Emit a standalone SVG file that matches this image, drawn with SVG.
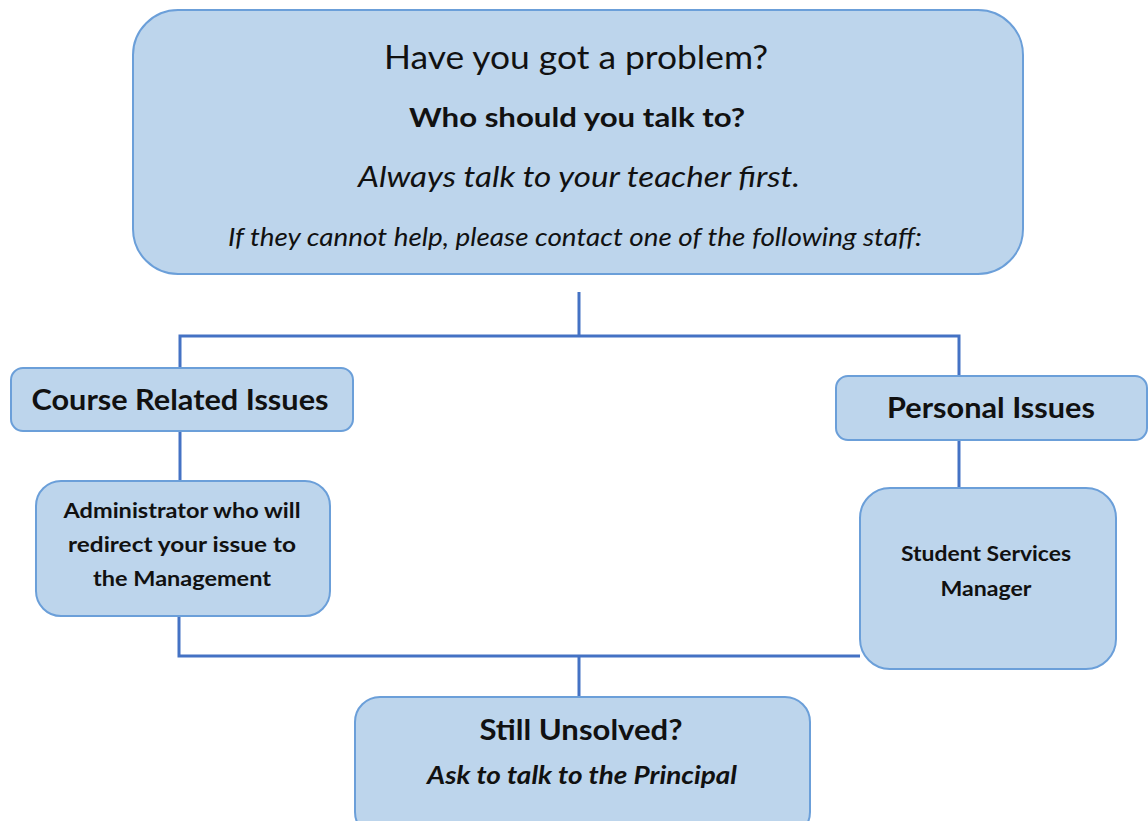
<svg xmlns="http://www.w3.org/2000/svg" width="1148" height="821" viewBox="0 0 1148 821">
<style>
.box{fill:#bdd5ec;stroke:#6b9fd9;stroke-width:2}
.con{fill:none;stroke:#4472c4;stroke-width:3}
text{font-family:Lato,"Open Sans","Liberation Sans",sans-serif;fill:#111;text-anchor:middle}
.b{font-weight:bold}
.i{font-style:italic}
</style>
<rect width="1148" height="821" fill="#fff"/>
<g id="connectors">
<path class="con" d="M579 292V336M180 368V336H959V376"/>
<path class="con" d="M180 431V481"/>
<path class="con" d="M959 440V488"/>
<path class="con" d="M179 616V656H860M579 656V697"/>
</g>
<g id="top">
<rect class="box" x="133" y="10" width="890" height="264" rx="45"/>
<text x="576" y="69" font-size="32" textLength="384" lengthAdjust="spacingAndGlyphs">Have you got a problem?</text>
<text x="577" y="127" font-size="27" class="b" textLength="336" lengthAdjust="spacingAndGlyphs">Who should you talk to?</text>
<text x="579" y="187" font-size="29" class="i" textLength="442" lengthAdjust="spacingAndGlyphs">Always talk to your teacher first.</text>
<text x="575" y="246" font-size="25" class="i" textLength="694" lengthAdjust="spacingAndGlyphs">If they cannot help, please contact one of the following staff:</text>
</g>
<g id="course">
<rect class="box" x="11" y="368" width="342" height="63" rx="12"/>
<text x="180" y="410" font-size="28" class="b" textLength="297" lengthAdjust="spacingAndGlyphs">Course Related Issues</text>
</g>
<g id="admin">
<rect class="box" x="36" y="481" width="294" height="135" rx="25"/>
<text x="182" y="518" font-size="21" class="b" textLength="237" lengthAdjust="spacingAndGlyphs">Administrator who will</text>
<text x="182" y="552" font-size="21" class="b" textLength="228" lengthAdjust="spacingAndGlyphs">redirect your issue to</text>
<text x="182" y="586" font-size="21" class="b" textLength="178" lengthAdjust="spacingAndGlyphs">the Management</text>
</g>
<g id="personal">
<rect class="box" x="836" y="376" width="311" height="64" rx="12"/>
<text x="991" y="418" font-size="28" class="b" textLength="208" lengthAdjust="spacingAndGlyphs">Personal Issues</text>
</g>
<g id="student">
<rect class="box" x="860" y="488" width="256" height="181" rx="30"/>
<text x="986" y="561" font-size="21" class="b" textLength="170" lengthAdjust="spacingAndGlyphs">Student Services</text>
<text x="986" y="596" font-size="21" class="b" textLength="91" lengthAdjust="spacingAndGlyphs">Manager</text>
</g>
<g id="unsolved">
<rect class="box" x="355" y="697" width="455" height="140" rx="25"/>
<text x="581" y="740" font-size="28" class="b" textLength="203" lengthAdjust="spacingAndGlyphs">Still Unsolved?</text>
<text x="582" y="784" font-size="24" class="b i" textLength="310" lengthAdjust="spacingAndGlyphs">Ask to talk to the Principal</text>
</g>
</svg>
